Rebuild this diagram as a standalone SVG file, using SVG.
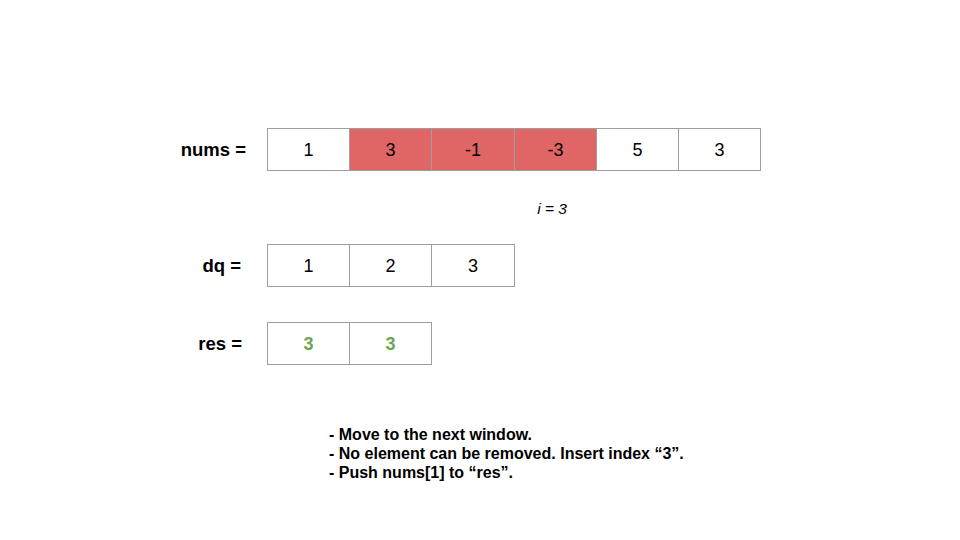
<svg xmlns="http://www.w3.org/2000/svg" width="960" height="540" viewBox="0 0 960 540">
<style>
.c{fill:#ffffff;stroke:#9e9e9e;stroke-width:1}
.r{fill:#e06666;stroke:#9e9e9e;stroke-width:1}
.t{font-family:"Liberation Sans",Arial,sans-serif;font-size:18px;fill:#000;text-anchor:middle}
.g{font-family:"Liberation Sans",Arial,sans-serif;font-size:18px;font-weight:bold;fill:#6aa84f;text-anchor:middle}
.l{font-family:"Liberation Sans",Arial,sans-serif;font-size:18.5px;font-weight:bold;fill:#000;text-anchor:end}
.n{font-family:"Liberation Sans",Arial,sans-serif;font-size:16px;font-weight:bold;fill:#000}
.i{font-family:"Liberation Sans",Arial,sans-serif;font-size:15.5px;font-style:italic;fill:#000;text-anchor:middle}
</style>
<rect width="960" height="540" fill="#ffffff"/>
<g id="nums">
<text class="l" x="246" y="156">nums =</text>
<rect class="c" x="267.5" y="128.5" width="82" height="42"/>
<rect class="r" x="349.5" y="128.5" width="82" height="42"/>
<rect class="r" x="431.5" y="128.5" width="83" height="42"/>
<rect class="r" x="514.5" y="128.5" width="82" height="42"/>
<rect class="c" x="596.5" y="128.5" width="82" height="42"/>
<rect class="c" x="678.5" y="128.5" width="82" height="42"/>
<text class="t" x="308.5" y="156">1</text>
<text class="t" x="390.5" y="156">3</text>
<text class="t" x="473" y="156">-1</text>
<text class="t" x="555.5" y="156">-3</text>
<text class="t" x="637.5" y="156">5</text>
<text class="t" x="719.5" y="156">3</text>
</g>
<g id="index">
<text class="i" x="552" y="214">i = 3</text>
</g>
<g id="dq">
<text class="l" x="241" y="272">dq =</text>
<rect class="c" x="267.5" y="244.5" width="82" height="42"/>
<rect class="c" x="349.5" y="244.5" width="82" height="42"/>
<rect class="c" x="431.5" y="244.5" width="83" height="42"/>
<text class="t" x="308.5" y="272">1</text>
<text class="t" x="390.5" y="272">2</text>
<text class="t" x="473" y="272">3</text>
</g>
<g id="res">
<text class="l" x="242" y="350">res =</text>
<rect class="c" x="267.5" y="322.5" width="82" height="42"/>
<rect class="c" x="349.5" y="322.5" width="82" height="42"/>
<text class="g" x="308.5" y="350">3</text>
<text class="g" x="390.5" y="350">3</text>
</g>
<g id="notes">
<text class="n" x="329" y="440">- Move to the next window.</text>
<text class="n" x="329" y="459">- No element can be removed. Insert index “3”.</text>
<text class="n" x="329" y="478">- Push nums[1] to “res”.</text>
</g>
<g id="connectors"></g>
</svg>
